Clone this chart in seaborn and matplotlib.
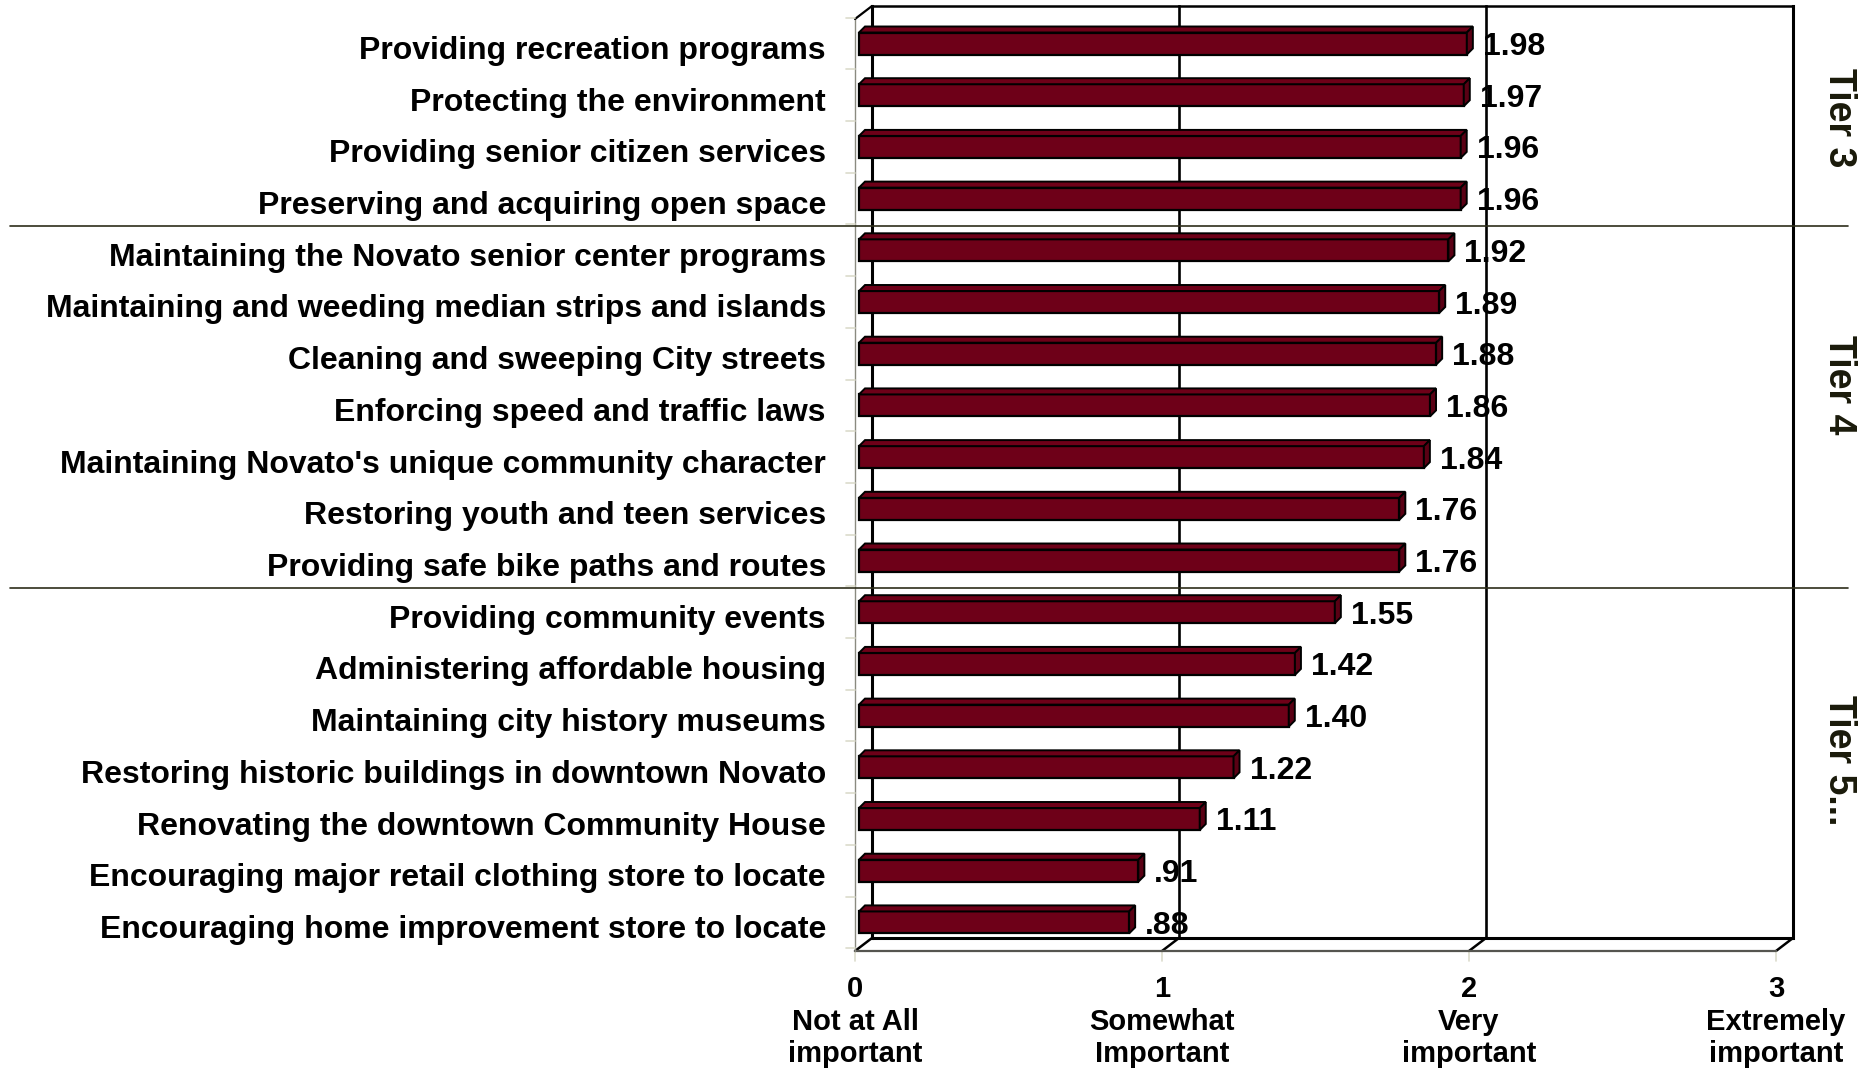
import matplotlib
matplotlib.use("Agg")
import matplotlib.pyplot as plt
from matplotlib.patches import Polygon
from matplotlib.lines import Line2D
import seaborn as sns
import pandas as pd

# ---- data ---------------------------------------------------------------
items = [
    "Providing recreation programs",
    "Protecting the environment",
    "Providing senior citizen services",
    "Preserving and acquiring open space",
    "Maintaining the Novato senior center programs",
    "Maintaining and weeding median strips and islands",
    "Cleaning and sweeping City streets",
    "Enforcing speed and traffic laws",
    "Maintaining Novato's unique community character",
    "Restoring youth and teen services",
    "Providing safe bike paths and routes",
    "Providing community events",
    "Administering affordable housing",
    "Maintaining city history museums",
    "Restoring historic buildings in downtown Novato",
    "Renovating the downtown Community House",
    "Encouraging major retail clothing store to locate",
    "Encouraging home improvement store to locate",
]
scores = [1.98, 1.97, 1.96, 1.96, 1.92, 1.89, 1.88, 1.86, 1.84, 1.76, 1.76,
          1.55, 1.42, 1.40, 1.22, 1.11, 0.91, 0.88]
scale_values = [0, 1, 2, 3]
scale_labels = ["Not at All\nimportant", "Somewhat\nImportant",
                "Very\nimportant", "Extremely\nimportant"]
tier_names = ["Tier 3", "Tier 4", "Tier 5..."]
tier_sizes = [4, 7, 7]

df = pd.DataFrame({"item": items, "score": scores})

# ---- style ----------------------------------------------------------------
sns.set_style("white")
plt.rcParams["font.family"] = ["Liberation Sans", "DejaVu Sans"]
plt.rcParams["font.weight"] = "bold"
plt.rcParams["text.color"] = "black"
plt.rcParams["xtick.color"] = "black"
plt.rcParams["ytick.color"] = "black"

BAR = "#6E0018"
W, H = 1863, 1072
fig = plt.figure(figsize=(W / 100, H / 100), dpi=100)

# axes geometry (pixels): bar origin at x=859, 307 px per unit, 51.7 px per row
X0, PXU = 859.0, 307.0
Y0, PXR = 43.5, 51.7
AX_L, AX_R, AX_T, AX_B = 840, 1810, 0, 960
ax = fig.add_axes([AX_L / W, 1 - AX_B / H, (AX_R - AX_L) / W, (AX_B - AX_T) / H])


def xd(px):
    return (px - X0) / PXU


def yd(py):
    return (py - Y0) / PXR


n = len(items)
bar_h = 22 / PXR
sns.barplot(data=df, x="score", y="item", orient="h", color=BAR, saturation=1,
            width=bar_h, edgecolor="black", linewidth=1.6, ax=ax, zorder=3)

ax.set_xlim(xd(AX_L), xd(AX_R))
ax.set_ylim(yd(AX_B), yd(AX_T))
for s in ax.spines.values():
    s.set_visible(False)
ax.set_xlabel("")
ax.set_ylabel("")
ax.set_facecolor("none")

# category labels, drawn slightly below each bar's centre line
ax.set_yticks([])
for i, name in enumerate(items):
    ax.text(xd(826), i + 7.5 / PXR, name, ha="right", va="center", fontsize=23,
            fontweight="bold", color="black", clip_on=False)

ax.tick_params(axis="x", length=0, pad=11, labelsize=21)

# ---- pseudo-3D frame --------------------------------------------------------
front_off, back_off = -4, 13          # x offsets (px) of front / back planes
floor_front, floor_back = 951, 938    # y of floor edges (px)
wall_top_back, wall_top_front = 6, 19

ax.set_xticks([v + front_off / PXU for v in scale_values])
ax.set_xticklabels([f"{v}\n{lab}" for v, lab in zip(scale_values, scale_labels)],
                   fontweight="bold", linespacing=1.2)

k_lw = 2.2
# back wall: left edge, gridlines, right edge, top edge
for v in scale_values:
    xb = v + back_off / PXU
    lw = k_lw if v in (0, 3) else 1.9
    ax.plot([xb, xb], [yd(floor_back), yd(wall_top_back)], color="black",
            lw=lw, zorder=1, clip_on=False, solid_capstyle="projecting")
    # floor diagonals
    ax.plot([v + front_off / PXU, xb], [yd(floor_front), yd(floor_back)],
            color="black", lw=1.8, zorder=1, clip_on=False)
    # small ticks under the floor
    ax.plot([v + front_off / PXU] * 2, [yd(floor_front), yd(floor_front + 10)],
            color="#dcdccc", lw=1.2, zorder=1, clip_on=False)
ax.plot([back_off / PXU, 3 + back_off / PXU], [yd(wall_top_back)] * 2,
        color="black", lw=1.8, zorder=1, clip_on=False)
ax.plot([back_off / PXU, 3 + back_off / PXU], [yd(floor_back)] * 2,
        color="black", lw=k_lw, zorder=1, clip_on=False)
# front edges
ax.plot([front_off / PXU, 3 + front_off / PXU], [yd(floor_front)] * 2,
        color="#555550", lw=1.6, zorder=1, clip_on=False)
ax.plot([front_off / PXU] * 2, [yd(floor_front), yd(wall_top_front)],
        color="#8a8a80", lw=1.0, zorder=1, clip_on=False)
ax.plot([front_off / PXU, back_off / PXU], [yd(wall_top_front), yd(wall_top_back)],
        color="black", lw=1.6, zorder=1, clip_on=False)
# left wall ticks at row boundaries
for i in range(n + 1):
    yb = i - 0.5
    ax.plot([front_off / PXU - 9 / PXU, front_off / PXU], [yb, yb],
            color="#dcdccc", lw=1.2, zorder=1, clip_on=False)

# ---- bar depth faces and value labels ----------------------------------------
ddx, ddy = 6 / PXU, 6 / PXR
for patch, v in zip(ax.patches, scores):
    x0, y0 = patch.get_x(), patch.get_y()
    w, h = patch.get_width(), patch.get_height()
    x1 = x0 + w
    ytop = y0          # smaller data y is higher on the inverted axis
    ybot = y0 + h
    top = Polygon([(x0, ytop), (x1, ytop), (x1 + ddx, ytop - ddy), (x0 + ddx, ytop - ddy)],
                  closed=True, facecolor=BAR, edgecolor="black", lw=1.4, zorder=3)
    side = Polygon([(x1, ytop), (x1, ybot), (x1 + ddx, ybot - ddy), (x1 + ddx, ytop - ddy)],
                   closed=True, facecolor="#5a0014", edgecolor="black", lw=1.4, zorder=3)
    ax.add_patch(top)
    ax.add_patch(side)
    lab = f"{v:.2f}"
    if lab.startswith("0"):
        lab = lab[1:]
    ax.text(x1 + 16 / PXU, y0 + h / 2 + 3.5 / PXR, lab, ha="left", va="center",
            fontsize=23, fontweight="bold", color="black", zorder=5)

# ---- tier separators and labels -----------------------------------------------
sep_rows = []
acc = 0
for s in tier_sizes[:-1]:
    acc += s
    sep_rows.append(acc - 0.5)
for r in sep_rows:
    py = Y0 + r * PXR + 2
    fig.add_artist(Line2D([10 / W, 1848 / W], [1 - py / H] * 2, color="#2e2e1a",
                          lw=1.2, zorder=6))

tier_y = [118, 385, 760]
for name, ty in zip(tier_names, tier_y):
    fig.text(1839 / W, 1 - ty / H, name, rotation=-90, ha="center", va="center",
             fontsize=27, fontweight="bold", color="#1a1a0a")

fig.savefig("out.png", dpi=100)
